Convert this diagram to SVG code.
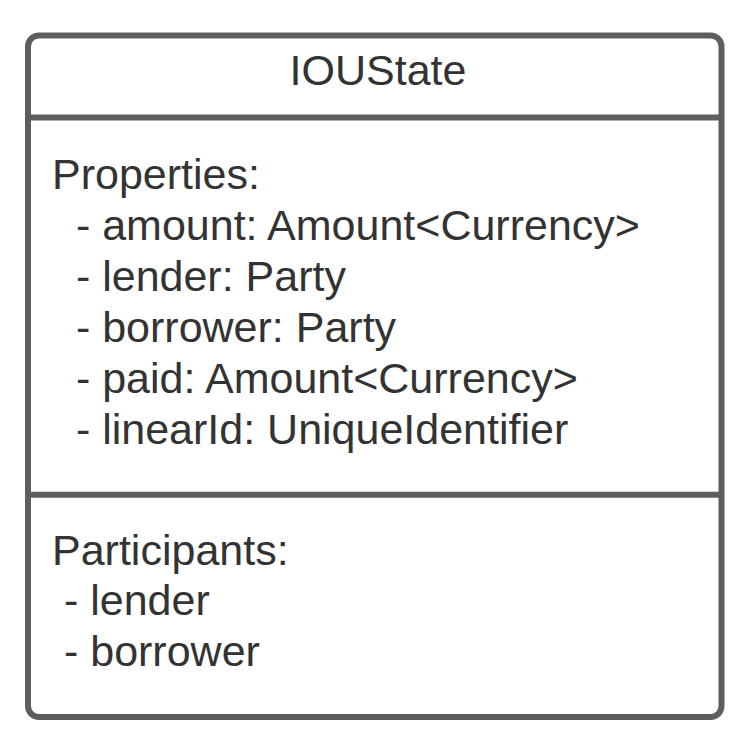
<svg xmlns="http://www.w3.org/2000/svg" width="750" height="752" viewBox="0 0 750 752">
<style>
.box{fill:#ffffff;stroke:#5e5e5e;stroke-width:6}
.div{stroke:#5e5e5e;stroke-width:6;fill:none}
.t{font-family:"Liberation Sans",Arial,sans-serif;font-size:43px;fill:#333333;white-space:pre}
</style>
<rect width="750" height="752" fill="#ffffff"/>
<g id="IOUState">
<rect class="box" x="28" y="35.5" width="693.5" height="681.5" rx="11" ry="11"/>
<line class="div" x1="28" y1="117.5" x2="721.5" y2="117.5"/>
<line class="div" x1="28" y1="494.7" x2="721.5" y2="494.7"/>
<text class="t" x="378" y="85" text-anchor="middle">IOUState</text>
<text class="t" x="52" y="188.5" xml:space="preserve">Properties:</text>
<text class="t" x="52" y="239.5" xml:space="preserve">  - amount: Amount&lt;Currency&gt;</text>
<text class="t" x="52" y="290.5" xml:space="preserve">  - lender: Party</text>
<text class="t" x="52" y="341.5" xml:space="preserve">  - borrower: Party</text>
<text class="t" x="52" y="392.5" xml:space="preserve">  - paid: Amount&lt;Currency&gt;</text>
<text class="t" x="52" y="443.5" xml:space="preserve">  - linearId: UniqueIdentifier</text>
<text class="t" x="52" y="564.5" xml:space="preserve">Participants:</text>
<text class="t" x="52" y="615.3" xml:space="preserve"> - lender</text>
<text class="t" x="52" y="666.3" xml:space="preserve"> - borrower</text>
</g>
<g id="connectors"/>
</svg>
